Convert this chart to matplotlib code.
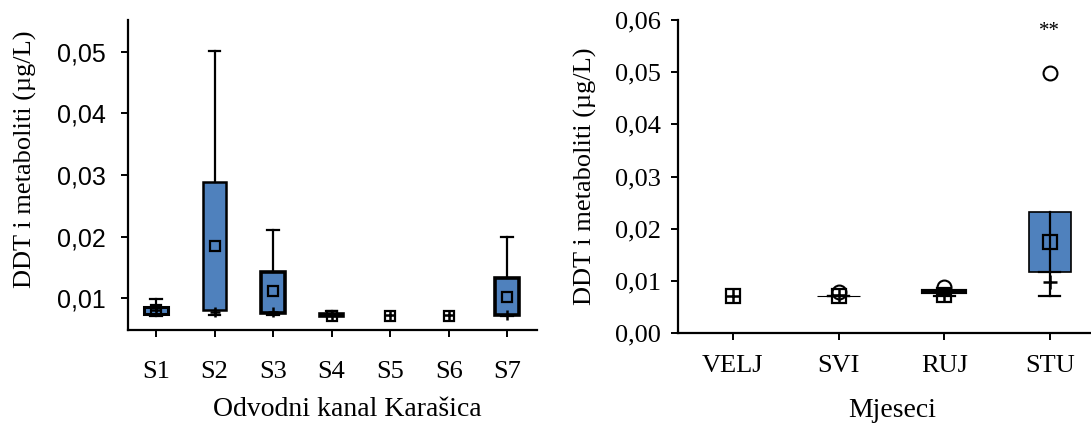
import matplotlib
matplotlib.use('Agg')
import matplotlib.pyplot as plt
from matplotlib.ticker import FuncFormatter

# Odvodni kanal Karašica - po postajama
sites = ['S1', 'S2', 'S3', 'S4', 'S5', 'S6', 'S7']
site_whislo = [0.0071, 0.0072, 0.0072, 0.0071, 0.0072, 0.0072, 0.0071]
site_q1 = [0.0074, 0.0080, 0.0075, 0.0071, 0.0072, 0.0072, 0.0072]
site_med = [0.0081, 0.0077, 0.0077, 0.0072, 0.0072, 0.0072, 0.0072]
site_q3 = [0.0086, 0.0289, 0.0142, 0.0074, 0.0072, 0.0072, 0.0133]
site_whishi = [0.0099, 0.0502, 0.0210, 0.0079, 0.0072, 0.0072, 0.0199]
site_mean = [0.0081, 0.0184, 0.0111, 0.0071, 0.0071, 0.0071, 0.0102]

# Mjeseci
months = ['VELJ', 'SVI', 'RUJ', 'STU']
month_whislo = [0.0070, 0.0071, 0.0071, 0.0071]
month_q1 = [0.0070, 0.0071, 0.0078, 0.0117]
month_med = [0.0070, 0.0072, 0.0074, 0.0098]
month_q3 = [0.0070, 0.0071, 0.0080, 0.0232]
month_whishi = [0.0070, 0.0071, 0.0080, 0.0117]
month_mean = [0.0070, 0.0071, 0.0072, 0.0174]
month_fliers = [[], [0.0078], [0.0088], [0.0498]]

BLUE = '#4f81bd'
SERIF = 'Liberation Serif'
SANS = 'Liberation Sans'

comma = FuncFormatter(lambda v, _: f'{v:.2f}'.replace('.', ','))


def make_stats(labels, lo, q1, med, q3, hi, mean, fliers=None):
    stats = []
    for i, lab in enumerate(labels):
        stats.append(dict(label=lab, whislo=lo[i], q1=q1[i], med=med[i], q3=q3[i],
                          whishi=hi[i], mean=mean[i],
                          fliers=fliers[i] if fliers else []))
    return stats


def draw(ax, stats, box_lws, ms):
    pos = list(range(1, len(stats) + 1))
    parts = ax.bxp(stats, positions=pos, widths=0.4, capwidths=0.2, patch_artist=True,
                   showmeans=True, showfliers=True,
                   boxprops=dict(facecolor=BLUE, edgecolor='black'),
                   whiskerprops=dict(color='black', linewidth=1.6),
                   capprops=dict(color='black', linewidth=1.6),
                   medianprops=dict(linewidth=0),
                   meanprops=dict(marker='s', markerfacecolor='none', markeredgecolor='black',
                                  markersize=ms, markeredgewidth=1.6, zorder=6),
                   flierprops=dict(marker='o', markerfacecolor='none', markeredgecolor='black',
                                   markersize=10, markeredgewidth=1.5))
    for i, lw in enumerate(box_lws):
        if lw == 0:
            # single-value groups: only the mean/median symbols are shown
            parts['boxes'][i].set_visible(False)
            parts['caps'][2 * i].set_visible(False)
            parts['caps'][2 * i + 1].set_visible(False)
        else:
            parts['boxes'][i].set_linewidth(lw)
    ax.plot(pos, [s['med'] for s in stats], '+', color='black', ms=ms, mew=1.8, zorder=5)
    for side in ['top', 'right']:
        ax.spines[side].set_visible(False)
    for side in ['left', 'bottom']:
        ax.spines[side].set_linewidth(1.6)
    ax.tick_params(direction='out', length=5, width=1.4)
    ax.yaxis.set_major_formatter(comma)
    return parts


fig = plt.figure(figsize=(10.91, 4.23), dpi=100)

ax1 = fig.add_axes([128 / 1091, 93 / 423, 409 / 1091, 310 / 423])
draw(ax1, make_stats(sites, site_whislo, site_q1, site_med, site_q3, site_whishi, site_mean),
     [2.2, 1.8, 2.6, 2.6, 0, 0, 2.6], 7)
ax1.set_xlim(0.52, 7.51)
ax1.set_ylim(0.0048, 0.0552)
ax1.set_yticks([0.01, 0.02, 0.03, 0.04, 0.05])
for t in ax1.get_yticklabels():
    t.set_fontfamily(SANS)
    t.set_fontsize(18)
for t in ax1.get_xticklabels():
    t.set_fontfamily(SERIF)
    t.set_fontsize(19)
ax1.tick_params(axis='y', pad=11)
ax1.tick_params(axis='x', pad=17)
ax1.set_ylabel('DDT i metaboliti (µg/L)', fontfamily=SERIF, fontsize=19)
ax1.yaxis.set_label_coords(-0.222, 0.55)
ax1.set_xlabel('Odvodni kanal Karašica', fontfamily=SERIF, fontsize=20)
ax1.xaxis.set_label_coords(0.535, -0.215)

ax2 = fig.add_axes([678 / 1091, 90 / 423, 413 / 1091, 313 / 423])
draw(ax2, make_stats(months, month_whislo, month_q1, month_med, month_q3, month_whishi,
                     month_mean, month_fliers), [0, 0.8, 3.0, 1.2], 10)
ax2.set_xlim(0.48, 4.39)
ax2.set_ylim(0, 0.06)
ax2.set_yticks([0, 0.01, 0.02, 0.03, 0.04, 0.05, 0.06])
for t in ax2.get_yticklabels() + ax2.get_xticklabels():
    t.set_fontfamily(SERIF)
    t.set_fontsize(19)
ax2.tick_params(axis='y', pad=7)
ax2.tick_params(axis='x', pad=11)
ax2.set_ylabel('DDT i metaboliti (µg/L)', fontfamily=SERIF, fontsize=19)
ax2.yaxis.set_label_coords(-0.196, 0.5)
ax2.set_xlabel('Mjeseci', fontfamily=SERIF, fontsize=20)
ax2.xaxis.set_label_coords(0.518, -0.208)
ax2.text(4, 0.0578, '**', ha='center', va='center', fontfamily=SERIF, fontsize=15)

fig.savefig('out.png', dpi=100)
